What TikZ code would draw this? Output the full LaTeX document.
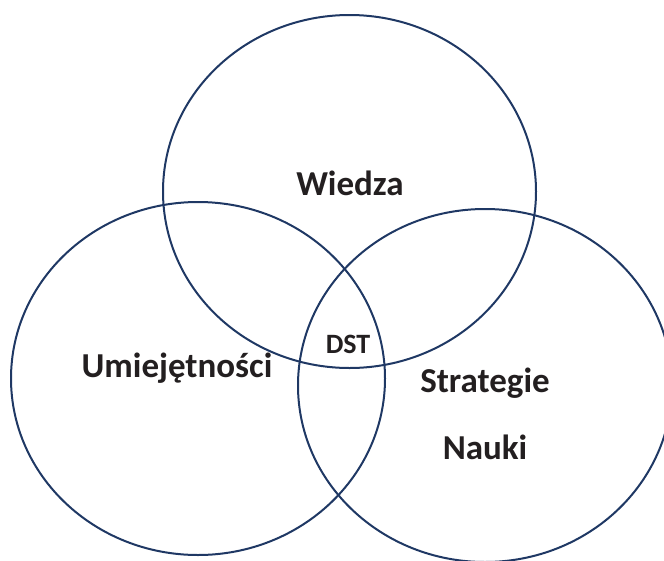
\documentclass[tikz,border=0pt]{standalone}
\usepackage{fontspec}
\setmainfont{Carlito}
\definecolor{venn}{RGB}{31,56,100}
\definecolor{ink}{RGB}{35,31,32}
\tikzset{
    zbior/.style={draw=venn, line width=2pt},
    etykieta/.style={text=ink, font=\fontsize{35}{40}\selectfont\bfseries},
    srodek/.style={text=ink, font=\fontsize{28}{32}\selectfont\bfseries}
}
\begin{document}
\begin{tikzpicture}[x=1pt, y=-1pt]
            \useasboundingbox (0,0) rectangle (664,560);
            \draw[zbior] (349.5,191.5) ellipse [x radius=186.5pt, y radius=176.5pt];
            \draw[zbior] (198,378.5) ellipse [x radius=187pt, y radius=176.5pt];
            \draw[zbior] (485,385.5) ellipse [x radius=187pt, y radius=176.5pt];
            \node[etykieta] (wiedza) at (350,183) {Wiedza};
            \node[etykieta] (umiej) at (177,368) {Umiejętności};
            \node[etykieta] (strat) at (485,383) {Strategie};
            \node[etykieta] (nauki) at (485,447) {Nauki};
            \node[srodek] (dst) at (348,344) {DST};
        \end{tikzpicture}
\end{document}
